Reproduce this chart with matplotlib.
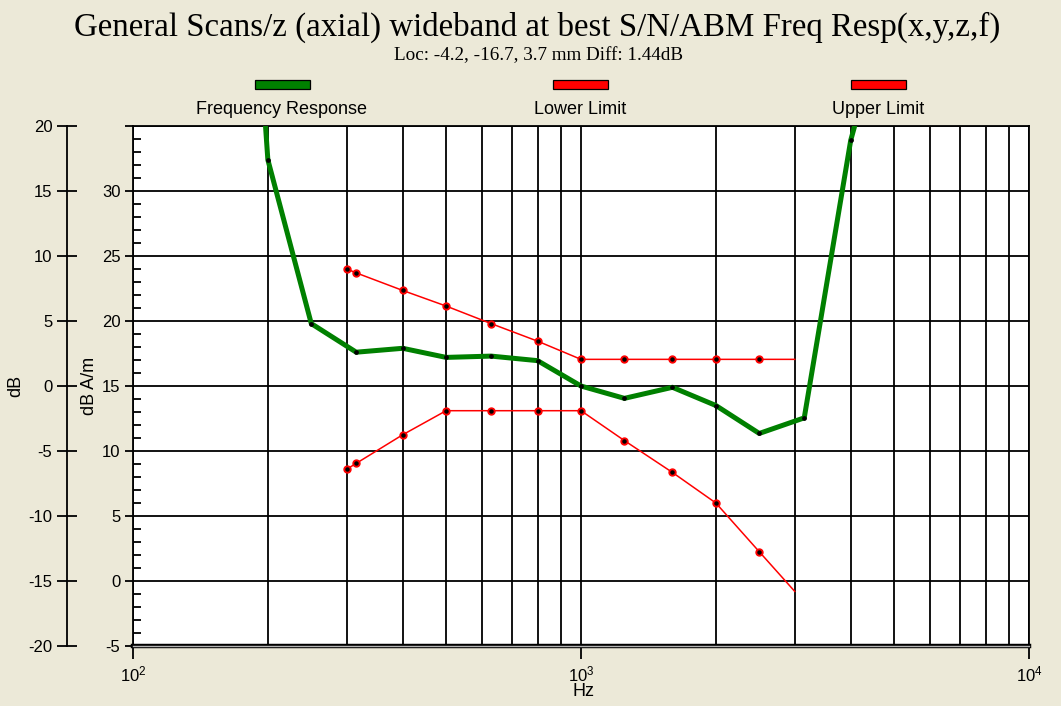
import numpy as np
import matplotlib
matplotlib.use('Agg')
import matplotlib.pyplot as plt
from matplotlib.patches import Rectangle
from matplotlib.lines import Line2D
from matplotlib.ticker import FixedLocator, NullFormatter, LogFormatterMathtext, MultipleLocator, FuncFormatter

plt.rcParams['axes.unicode_minus'] = False

# ---------------- data (values in dB A/m) ----------------
resp_hz = [180, 200, 250, 315, 400, 500, 630, 800, 1000, 1250, 1600, 2000, 2500, 3150, 4000, 5000]
resp_dbam = [55.0, 32.4, 19.8, 17.6, 17.9, 17.2, 17.3, 16.95, 15.0, 14.05, 14.9, 13.5, 11.35, 12.55, 33.9, 46.0]

lower_hz = [300, 315, 400, 500, 630, 800, 1000, 1250, 1600, 2000, 2500, 3000]
lower_dbam = [8.6, 9.05, 11.25, 13.1, 13.1, 13.1, 13.1, 10.8, 8.35, 6.0, 2.25, -0.8]

upper_hz = [300, 315, 400, 500, 630, 800, 1000, 1250, 1600, 2000, 2500, 3000]
upper_dbam = [24.0, 23.7, 22.35, 21.15, 19.8, 18.45, 17.05, 17.05, 17.05, 17.05, 17.05, 17.05]

legend_labels = ["Frequency Response", "Lower Limit", "Upper Limit"]
title = "General Scans/z (axial) wideband at best S/N/ABM Freq Resp(x,y,z,f)"
subtitle = "Loc: -4.2, -16.7, 3.7 mm Diff: 1.44dB"

BG = '#ECE9D8'
GREEN = '#008000'
RED = '#FF0000'
W, H = 1061, 706

fig = plt.figure(figsize=(W / 100, H / 100), dpi=100, facecolor=BG)
px = lambda x: x / W
py = lambda y: 1 - y / H

L, R, T, B = 133, 1029, 126, 646
pos = [px(L), py(B), px(R) - px(L), py(T) - py(B)]

# outer dB axis (drawn first, behind)
axo = fig.add_axes(pos, frameon=True)
axo.patch.set_visible(False)
for s in ['top', 'right', 'bottom']:
    axo.spines[s].set_visible(False)
axo.spines['left'].set_position(('outward', 66 * 72 / 100))
axo.spines['left'].set_linewidth(1.3)
axo.set_ylim(-20, 20)
axo.set_yticks(np.arange(-20, 21, 5))
axo.set_xticks([])
axo.tick_params(axis='y', direction='inout', length=15, width=1.3, labelsize=12, pad=3)
for t in axo.get_yticklabels():
    t.set_fontfamily('Liberation Sans')

ax = fig.add_axes(pos)
ax.set_facecolor('white')
ax.set_xscale('log')
ax.set_xlim(100, 10000)
ax.set_ylim(-5, 35)

# grid
ax.xaxis.set_major_locator(FixedLocator([100, 1000, 10000]))
ax.xaxis.set_minor_locator(FixedLocator([m * d for d in (100, 1000) for m in range(2, 10)]))
ax.xaxis.set_major_formatter(LogFormatterMathtext())
ax.xaxis.set_minor_formatter(NullFormatter())
ax.yaxis.set_major_locator(MultipleLocator(5))
ax.yaxis.set_minor_locator(MultipleLocator(1))
ax.yaxis.set_major_formatter(FuncFormatter(lambda v, p: '' if v > 34 else '%d' % v))
ax.grid(True, which='both', axis='x', color='black', lw=1.3)
ax.grid(True, which='major', axis='y', color='black', lw=1.3)
ax.set_axisbelow(True)

ax.tick_params(axis='x', which='major', direction='out', length=9, width=1.3, labelsize=12, pad=4)
ax.tick_params(axis='x', which='minor', length=0)
ax.tick_params(axis='y', which='major', direction='out', length=6, width=1.3, labelsize=12, pad=3)
ax.tick_params(axis='y', which='minor', direction='in', length=6, width=1.3)
for t in ax.get_xticklabels() + ax.get_yticklabels():
    t.set_fontfamily('Liberation Sans')

for s in ['top', 'right', 'left']:
    ax.spines[s].set_linewidth(1.3)
ax.spines['bottom'].set_linewidth(3.2)
ax.add_line(Line2D([0, 1], [0, 0], transform=ax.transAxes, color='#B4B4B4', lw=1.0,
                   clip_on=False, zorder=6))

# data
ax.plot(lower_hz, lower_dbam, color=RED, lw=1.1, zorder=3)
ax.plot(upper_hz, upper_dbam, color=RED, lw=1.1, zorder=3)
for xs, ys in ((lower_hz, lower_dbam), (upper_hz, upper_dbam)):
    ax.plot(xs[:-1], ys[:-1], ls='none', marker='o', ms=5, mfc=RED, mec=RED, zorder=4)
    ax.plot(xs[:-1], ys[:-1], ls='none', marker='o', ms=2.2, mfc='black', mec='black', zorder=5)
ax.plot(resp_hz, resp_dbam, color=GREEN, lw=3.6, solid_joinstyle='round', zorder=4)
ax.plot(resp_hz, resp_dbam, ls='none', marker='o', ms=2.4, mfc='black', mec='black', zorder=5)

# labels
fig.text(px(584), py(692), 'Hz', ha='center', va='center', fontsize=13, family='Liberation Sans')
fig.text(px(16), py(386), 'dB', ha='center', va='center', rotation=90, fontsize=13, family='Liberation Sans')
fig.text(px(90), py(386), 'dB A/m', ha='center', va='center', rotation=90, fontsize=13, family='Liberation Sans')

# title / subtitle fitted to width
t1 = fig.text(px(537), py(27), title, ha='center', va='center', fontsize=22, family='Liberation Serif')
t2 = fig.text(px(539), py(56), subtitle, ha='center', va='center', fontsize=10, family='Liberation Serif')

# legend
box_cx = [282, 580, 878]
box_cols = [GREEN, RED, RED]
for cx, col, lab in zip(box_cx, box_cols, legend_labels):
    fig.add_artist(Rectangle((px(cx - 27), py(89)), px(55), (9) / H, transform=fig.transFigure,
                             facecolor=col, edgecolor='black', lw=0.9))
    fig.text(px(cx), py(110), lab, ha='center', va='center', fontsize=13, family='Liberation Sans')

fig.canvas.draw()
r = fig.canvas.get_renderer()
for t, wtarget in ((t1, 924), (t2, 290)):
    bb = t.get_window_extent(r)
    t.set_fontsize(t.get_fontsize() * wtarget / bb.width)

fig.savefig('out.png', dpi=100, facecolor=BG)
